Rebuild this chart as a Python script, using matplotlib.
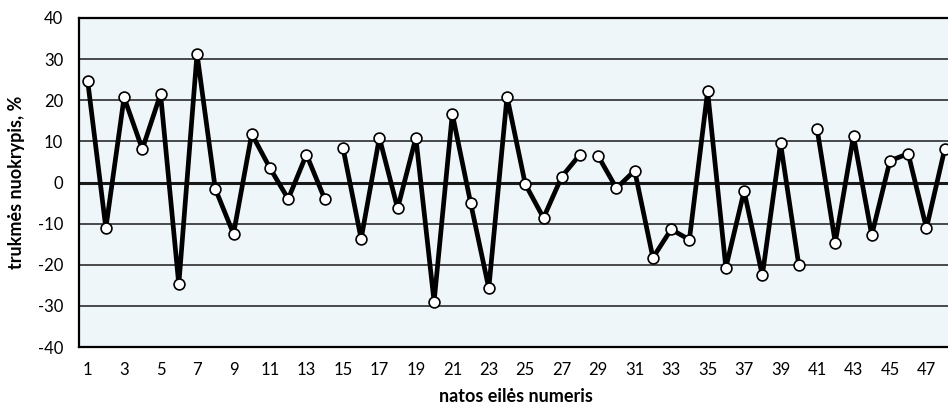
import matplotlib
matplotlib.use("Agg")
import matplotlib.pyplot as plt
import numpy as np

plt.rcParams['font.family'] = ['Lato', 'DejaVu Sans']

note_index = list(range(1, 49))
deviation = [24.8, -11.1, 20.7, 8.1, 21.5, -24.8, 31.3, -1.5, -12.5, 11.8,
             3.5, -4.0, 6.8, -4.0, 8.5, -13.7, 10.9, -6.3, 10.9, -29.0,
             16.7, -4.9, -25.7, 20.9, -0.4, -8.6, 1.4, 6.8, 6.4, -1.4,
             2.9, -18.3, -11.4, -13.9, 22.2, -20.7, -2.1, -22.6, 9.5, -20.1,
             13.1, -14.6, 11.3, -12.8, 5.3, 7.0, -11.1, 8.1]
# line is broken after these note numbers
segment_breaks = [14, 28, 40]
y_ticks = [-40, -30, -20, -10, 0, 10, 20, 30, 40]
x_tick_labels = list(range(1, 48, 2))

fig = plt.figure(figsize=(9.48, 4.08), dpi=100)
ax = fig.add_axes([78.5/948, (408-347)/408, (953.8-78.5)/948, (347-18)/408])
ax.set_facecolor('#EEF6F9')

ax.set_xlim(0.5, 48.5)
ax.set_ylim(-40, 40)

for yv in y_ticks:
    if yv in (-40, 40):
        continue
    ax.axhline(yv, color='#1a1a1a', lw=2.2 if yv == 0 else 1.1, zorder=1)

starts = [1] + [b + 1 for b in segment_breaks]
ends = segment_breaks + [48]
x = np.array(note_index)
y = np.array(deviation)
for s, e in zip(starts, ends):
    m = (x >= s) & (x <= e)
    ax.plot(x[m], y[m], color='black', lw=3.4, zorder=2,
            marker='o', markersize=7.8, markerfacecolor='white',
            markeredgecolor='black', markeredgewidth=1.2)

ax.set_xticks(x_tick_labels)
ax.set_xticklabels([str(v) for v in x_tick_labels])
ax.set_yticks(y_ticks)
ax.set_yticklabels([str(v) for v in y_ticks])
ax.tick_params(axis='both', length=0, labelsize=12, colors='black')
ax.tick_params(axis='x', pad=11)
ax.tick_params(axis='y', pad=11)

for sp in ax.spines.values():
    sp.set_color('black')
    sp.set_linewidth(1.6)

ax.set_xlabel('natos eilės numeris', fontsize=13, fontweight='bold', labelpad=7)
ax.set_ylabel('trukmės nuokrypis, %', fontsize=13, fontweight='bold', labelpad=9)

fig.savefig('out.png', dpi=100)
